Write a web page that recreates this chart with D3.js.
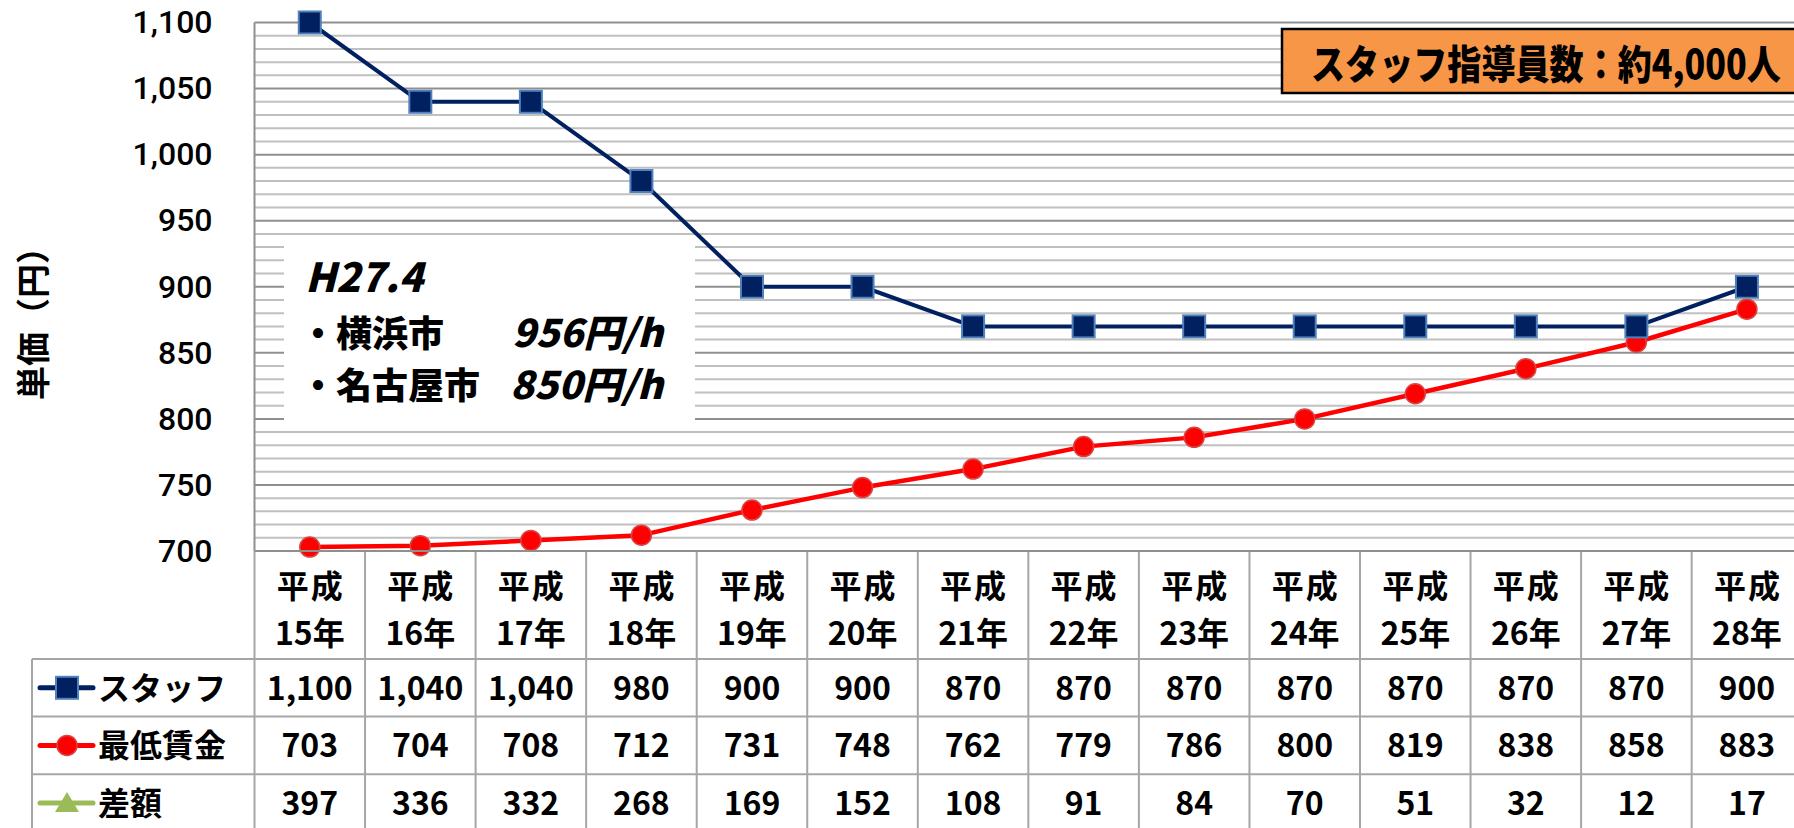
<!DOCTYPE html>
<html lang="ja">
<head>
<meta charset="utf-8">
<script src="https://cdn.jsdelivr.net/npm/d3@7"></script>
<style>
body{margin:0;background:#fff;}
svg{display:block;font-family:"Noto Sans CJK JP","Noto Sans",sans-serif;}
</style>
</head>
<body>
<div id="vis"></div>
<script>
// data
const categories = ["15","16","17","18","19","20","21","22","23","24","25","26","27","28"];
const seriesNames = ["スタッフ","最低賃金","差額"];
const staffValues = [1100,1040,1040,980,900,900,870,870,870,870,870,870,870,900];
const minWageValues = [703,704,708,712,731,748,762,779,786,800,819,838,858,883];
const diffValues = [397,336,332,268,169,152,108,91,84,70,51,32,12,17];
const yTicks = [700,750,800,850,900,950,1000,1050,1100];
const yTitle = "単価（円）";
const boxTitle = "スタッフ指導員数：約4,000人";
const noteLines = ["H27.4","・横浜市","・名古屋市"];
const notePrices = ["956円/h","850円/h"];

let width = 1794, height = 828;
let plotLeft = 254.5, plotTop = 22.5, plotBottom = 551;
let colW = 110.55, headerBottom = 659, rowH = 57.6, legendLeft = 32;

document.addEventListener("DOMContentLoaded", function(){
  drawChart();
});

function drawChart(){
  let svg = d3.select("#vis").append("svg")
      .attr("width", width)
      .attr("height", height);

  let x = d3.scaleBand()
      .domain(categories)
      .range([plotLeft, plotLeft + colW * categories.length]);
  let y = d3.scaleLinear()
      .domain([700, 1100])
      .range([plotBottom, plotTop]);
  let right = x.range()[1];
  function cx(i){ return x(categories[i]) + x.bandwidth() / 2; }

  // gridlines every 10, darker every 50
  svg.append("g").selectAll("line")
    .data(y.ticks(40))
    .enter().append("line")
      .attr("x1", plotLeft).attr("x2", right)
      .attr("y1", d => y(d)).attr("y2", d => y(d))
      .attr("stroke", d => d % 50 == 0 ? "#8f8f8f" : "#c0c0c0")
      .attr("stroke-width", 2);

  // plot left border
  svg.append("line")
    .attr("x1", plotLeft).attr("x2", plotLeft)
    .attr("y1", plotTop).attr("y2", plotBottom)
    .attr("stroke", "#8f8f8f").attr("stroke-width", 2);

  // y axis labels
  let yAxis = svg.append("g")
    .attr("transform", "translate(" + plotLeft + ",0)")
    .call(d3.axisLeft(y).tickValues(yTicks).tickSize(0).tickPadding(42).tickFormat(d3.format(",")));
  yAxis.select(".domain").remove();
  yAxis.selectAll("text")
    .attr("font-family", "Roboto, 'Noto Sans', sans-serif")
    .attr("font-size", 32)
    .attr("font-weight", 500)
    .attr("fill", "#000");

  svg.append("text")
    .attr("transform", "translate(31,315)rotate(-90)")
    .attr("text-anchor", "middle")
    .attr("dominant-baseline", "central")
    .attr("font-size", 34)
    .attr("font-weight", "bold")
    .text(yTitle);

  // white note box over the grid
  svg.append("rect")
    .attr("x", 284).attr("y", 240)
    .attr("width", 411).attr("height", 185)
    .attr("fill", "#fff");
  let note = svg.append("g")
    .attr("font-weight", 900)
    .attr("fill", "#000");
  note.append("text").attr("x", 305).attr("y", 292)
    .attr("font-size", 40).attr("font-style", "italic")
    .text(noteLines[0]);
  note.append("text").attr("x", 300).attr("y", 347)
    .attr("font-size", 36).text(noteLines[1]);
  note.append("text").attr("x", 300).attr("y", 399)
    .attr("font-size", 36).text(noteLines[2]);
  note.append("text").attr("x", 512).attr("y", 347)
    .attr("font-size", 38).attr("font-style", "italic")
    .attr("textLength", 151).attr("lengthAdjust", "spacingAndGlyphs")
    .text(notePrices[0]);
  note.append("text").attr("x", 510).attr("y", 399)
    .attr("font-size", 38).attr("font-style", "italic")
    .attr("textLength", 153).attr("lengthAdjust", "spacingAndGlyphs")
    .text(notePrices[1]);

  // orange box
  svg.append("rect")
    .attr("x", 1282).attr("y", 29)
    .attr("width", 530).attr("height", 64)
    .attr("fill", "#F79646")
    .attr("stroke", "#000").attr("stroke-width", 2.5);
  let boxText = svg.append("text")
    .attr("font-size", 40).attr("font-weight", 900)
    .text(boxTitle);
  // squeeze it to the width it has in the picture
  let natural = boxText.node().getComputedTextLength();
  boxText.attr("transform", "translate(1311,79)scale(" + (470 / natural) + ",1)");

  // lines
  let line = d3.line()
    .x((d, i) => cx(i))
    .y(d => y(d));

  svg.append("path")
    .datum(minWageValues)
    .attr("d", line)
    .attr("fill", "none")
    .attr("stroke", "#FF0000")
    .attr("stroke-width", 4.5)
    .attr("stroke-linejoin", "round");
  svg.append("path")
    .datum(staffValues)
    .attr("d", line)
    .attr("fill", "none")
    .attr("stroke", "#002060")
    .attr("stroke-width", 4)
    .attr("stroke-linejoin", "round");

  svg.append("g").selectAll("circle")
    .data(minWageValues)
    .enter().append("circle")
      .attr("cx", (d, i) => cx(i))
      .attr("cy", d => y(d))
      .attr("r", 10)
      .attr("fill", "#FF0000")
      .attr("stroke", "#D94545")
      .attr("stroke-width", 1.5);

  svg.append("g").selectAll("rect")
    .data(staffValues)
    .enter().append("rect")
      .attr("x", (d, i) => cx(i) - 11)
      .attr("y", d => y(d) - 11)
      .attr("width", 22)
      .attr("height", 22)
      .attr("fill", "#002060")
      .attr("stroke", "#4F81BD")
      .attr("stroke-width", 2);

  // data table
  let grid = svg.append("g")
    .attr("stroke", "#a6a6a6")
    .attr("stroke-width", 2);
  grid.selectAll(".vline")
    .data(d3.range(categories.length + 1))
    .enter().append("line")
      .attr("x1", i => plotLeft + i * colW).attr("x2", i => plotLeft + i * colW)
      .attr("y1", plotBottom).attr("y2", height + 10);
  grid.append("line")
    .attr("x1", legendLeft).attr("x2", legendLeft)
    .attr("y1", headerBottom).attr("y2", height + 10);
  grid.selectAll(".hline")
    .data(d3.range(4))
    .enter().append("line")
      .attr("x1", legendLeft).attr("x2", right)
      .attr("y1", i => headerBottom + i * rowH).attr("y2", i => headerBottom + i * rowH);
  grid.append("line")
    .attr("x1", plotLeft).attr("x2", right)
    .attr("y1", plotBottom).attr("y2", plotBottom)
    .attr("stroke", "#8f8f8f");

  // header
  let head = svg.append("g")
    .attr("font-size", 32)
    .attr("font-weight", "bold")
    .attr("text-anchor", "middle");
  head.selectAll(".h1")
    .data(categories)
    .enter().append("text")
      .attr("x", d => x(d) + x.bandwidth() / 2 + 1)
      .attr("y", 598)
      .attr("letter-spacing", 2)
      .text("平成");
  head.selectAll(".h2")
    .data(categories)
    .enter().append("text")
      .attr("x", d => x(d) + x.bandwidth() / 2)
      .attr("y", 645)
      .text(d => d + "年");

  let rows = [
    {name: seriesNames[0], values: staffValues, color: "#002060", marker: "square"},
    {name: seriesNames[1], values: minWageValues, color: "#FF0000", marker: "circle"},
    {name: seriesNames[2], values: diffValues, color: "#9BBB59", marker: "triangle"}
  ];

  rows.forEach(function(r, k){
    let mid = headerBottom + rowH * k + rowH / 2;
    let g = svg.append("g");
    g.append("line")
      .attr("x1", 40).attr("x2", 93)
      .attr("y1", mid).attr("y2", mid)
      .attr("stroke", r.color)
      .attr("stroke-width", 5)
      .attr("stroke-linecap", "round");
    if(r.marker == "square"){
      g.append("rect")
        .attr("x", 56).attr("y", mid - 11)
        .attr("width", 22).attr("height", 22)
        .attr("fill", "#002060")
        .attr("stroke", "#4F81BD").attr("stroke-width", 2);
    }else if(r.marker == "circle"){
      g.append("circle")
        .attr("cx", 67).attr("cy", mid).attr("r", 10)
        .attr("fill", "#FF0000")
        .attr("stroke", "#D94545").attr("stroke-width", 1.5);
    }else{
      g.append("path")
        .attr("d", "M67," + (mid - 11) + "L79," + (mid + 9) + "L55," + (mid + 9) + "Z")
        .attr("fill", "#9BBB59");
    }
    g.append("text")
      .attr("x", 98).attr("y", mid + 12)
      .attr("font-size", 32)
      .attr("font-weight", "bold")
      .text(r.name);
    g.selectAll(".v")
      .data(r.values)
      .enter().append("text")
        .attr("x", (d, i) => cx(i))
        .attr("y", mid + 12)
        .attr("text-anchor", "middle")
        .attr("font-size", 32)
        .attr("font-weight", "bold")
        .text(d => d3.format(",")(d));
  });
}
</script>
</body>
</html>
